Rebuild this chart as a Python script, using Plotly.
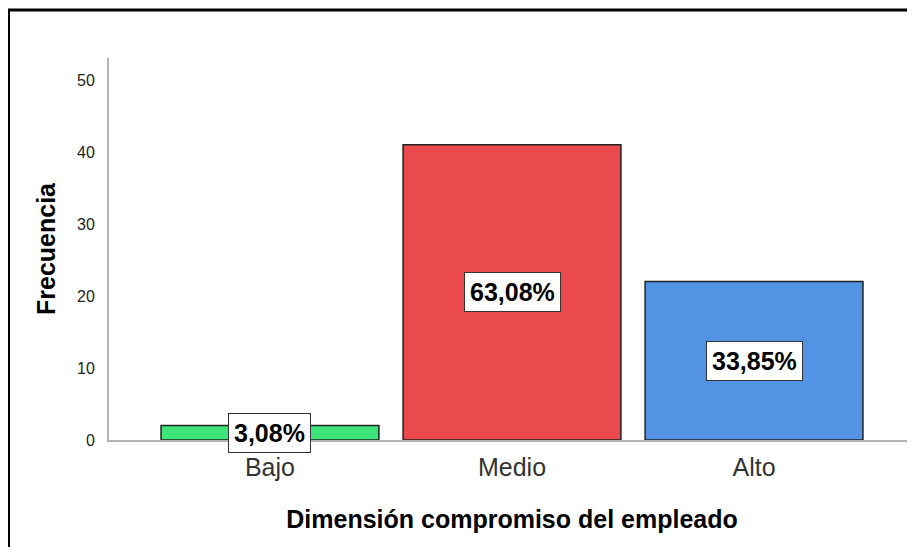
import plotly.graph_objects as go

categories = ["Bajo", "Medio", "Alto"]
frequencies = [2, 41, 22]
percent_labels = ["3,08%", "63,08%", "33,85%"]
bar_colors = ["#3ee57a", "#ea4a4d", "#5294e3"]
y_ticks = [0, 10, 20, 30, 40, 50]

# page has an 8px body margin, so the figure is offset by 8px
W, H = 907, 539
L, R, T, B = 101, 0, 50, 107
plot_w = W - L - R
plot_h = H - T - B

fig = go.Figure()
fig.add_trace(go.Bar(
    x=categories, y=frequencies,
    marker=dict(color=bar_colors, line=dict(color="#222222", width=1.5)),
    width=0.9, showlegend=False, hoverinfo="x+y",
))

for c, v, lab in zip(categories, frequencies, percent_labels):
    fig.add_annotation(
        x=c, y=v / 2, text=f"<b>{lab}</b>", showarrow=False,
        font=dict(family="Liberation Sans, Arial", size=25, color="#000000"),
        bgcolor="#ffffff", bordercolor="#333333", borderwidth=1, borderpad=5,
        xanchor="center", yanchor="middle",
    )

# outer frame (top and left edges)
px = lambda x: (x - L) / plot_w
py = lambda y: (H - B - y) / plot_h
fig.add_shape(type="line", xref="paper", yref="paper",
              x0=px(-1), x1=px(W + 10), y0=py(2), y1=py(2),
              line=dict(color="#000000", width=3))
fig.add_shape(type="line", xref="paper", yref="paper",
              x0=px(0.5), x1=px(0.5), y0=py(1), y1=py(H + 10),
              line=dict(color="#000000", width=3))

fig.update_layout(
    width=W, height=H,
    margin=dict(l=L, r=R, t=T, b=B, pad=0),
    paper_bgcolor="#ffffff", plot_bgcolor="#ffffff",
    font=dict(family="Liberation Sans, Arial", color="#222222"),
    bargap=0.1,
)
fig.update_xaxes(
    range=[-0.665, 2.665], showgrid=False, zeroline=False,
    showline=True, linecolor="#b4b4b4", linewidth=2,
    ticks="", tickfont=dict(size=25, color="#333333"),
    ticklabelstandoff=4,
    title=dict(text="<b>Dimensión compromiso del empleado</b>",
               font=dict(size=25, color="#000000"), standoff=30),
)
fig.update_yaxes(
    range=[0, 53.06], showgrid=False, zeroline=False,
    showline=True, linecolor="#b4b4b4", linewidth=2,
    tickvals=y_ticks, ticks="", tickfont=dict(size=16, color="#222222"),
    ticklabelstandoff=9,
    title=dict(text="<b>Frecuencia</b>", font=dict(size=25, color="#000000"),
               standoff=14),
)

fig.write_html("out.html")
